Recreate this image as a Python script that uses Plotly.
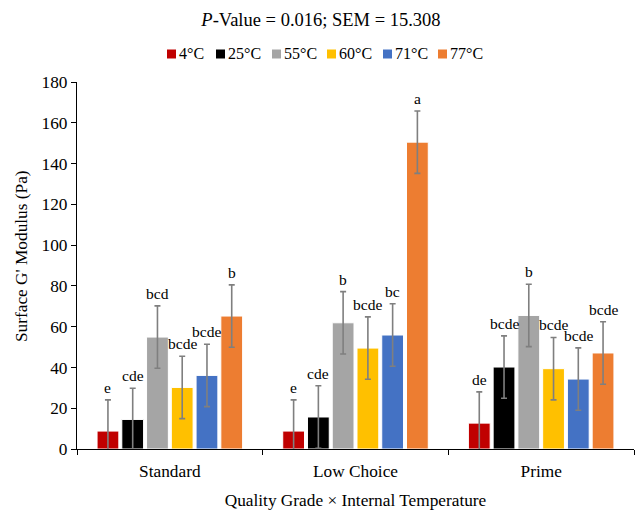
import plotly.graph_objects as go

categories = ["Standard", "Low Choice", "Prime"]
series_names = ["4°C", "25°C", "55°C", "60°C", "71°C", "77°C"]
colors = ["#C00000", "#000000", "#A5A5A5", "#FFC000", "#4472C4", "#ED7D31"]
# values per temperature across [Standard, Low Choice, Prime]
values = [
    [8.8, 8.8, 12.7],
    [14.5, 15.7, 40.2],
    [54.9, 61.9, 65.5],
    [30.2, 49.5, 39.4],
    [36.1, 55.9, 34.3],
    [65.2, 150.5, 47.1],
]
letters = [
    ["e", "e", "de"],
    ["cde", "cde", "bcde"],
    ["bcd", "b", "b"],
    ["bcde", "bcde", "bcde"],
    ["bcde", "bc", "bcde"],
    ["b", "a", "bcde"],
]
SEM = 15.308

FONT = "Liberation Serif"
W, H = 636, 510
L, R, T, B = 77, 2, 82, 61
BARGAP = 0.2
BARGROUPGAP = 0.12
TICK_SIZE = 17.3

fig = go.Figure()
for name, col, vals in zip(series_names, colors, values):
    fig.add_trace(go.Bar(
        x=categories, y=vals, name=name,
        marker=dict(color=col, line=dict(color="white", width=1)),
        error_y=dict(type="constant", value=SEM, color="#7F7F7F", thickness=1.6, width=3),
        showlegend=False,
    ))

n = len(series_names)
slot = (1 - BARGAP) / n
annotations = []
for i in range(n):
    for j in range(len(categories)):
        annotations.append(dict(
            x=j - (1 - BARGAP) / 2 + (i + 0.5) * slot,
            y=values[i][j] + SEM,
            xref="x", yref="y", text=letters[i][j], showarrow=False,
            yanchor="bottom", xanchor="center", yshift=2,
            font=dict(family=FONT, size=15.5, color="#000000"),
        ))

pw = W - L - R
ph = H - T - B

# manual legend (compact, Excel-like)
leg_left = [167, 216, 272, 327, 383, 438]
leg_y = 54
shapes = []
for name, col, lx in zip(series_names, colors, leg_left):
    x0 = (lx - L) / pw
    x1 = (lx + 9 - L) / pw
    y0 = (H - B - (leg_y + 4.5)) / ph
    y1 = (H - B - (leg_y - 4.5)) / ph
    shapes.append(dict(type="rect", xref="paper", yref="paper", x0=x0, x1=x1, y0=y0, y1=y1,
                       fillcolor=col, line=dict(width=0)))
    annotations.append(dict(
        x=(lx + 10 - L) / pw, y=(H - B - leg_y) / ph, xref="paper", yref="paper",
        text=name, showarrow=False, xanchor="left", yanchor="middle",
        font=dict(family=FONT, size=16, color="#000000"),
    ))

# y-axis title (Excel places it slightly above the plot centre)
annotations.append(dict(
    x=(21 - L) / pw, y=(H - B - 256) / ph, xref="paper", yref="paper",
    text="Surface G' Modulus (Pa)", textangle=-90, showarrow=False,
    xanchor="center", yanchor="middle",
    font=dict(family=FONT, size=TICK_SIZE, color="#000000"),
))

fig.update_layout(
    width=W, height=H,
    margin=dict(l=L, r=R, t=T, b=B),
    paper_bgcolor="white", plot_bgcolor="white",
    barmode="group", bargap=BARGAP, bargroupgap=BARGROUPGAP,
    title=dict(text="<i>P</i>-Value = 0.016; SEM = 15.308", x=321 / W, xref="container",
               y=1 - 20 / H, yref="container", yanchor="middle", xanchor="center",
               font=dict(family=FONT, size=18.5, color="#000000")),
    font=dict(family=FONT, size=16, color="#000000"),
    annotations=annotations,
    shapes=shapes,
    showlegend=False,
)
fig.update_xaxes(
    type="category", showline=True, linecolor="#000000", linewidth=1.2,
    ticks="outside", tickson="boundaries", ticklen=5, tickcolor="#000000",
    ticklabelstandoff=6,
    showgrid=False, tickfont=dict(family=FONT, size=TICK_SIZE, color="#000000"),
    title=dict(text="Quality Grade × Internal Temperature", standoff=14,
               font=dict(family=FONT, size=TICK_SIZE, color="#000000")),
)
fig.update_yaxes(
    range=[0, 180], dtick=20, showline=True, linecolor="#000000", linewidth=1.2,
    ticks="outside", ticklen=5, tickcolor="#000000", showgrid=False, zeroline=False,
    tickfont=dict(family=FONT, size=TICK_SIZE, color="#000000"),
)
fig.write_html("out.html")
